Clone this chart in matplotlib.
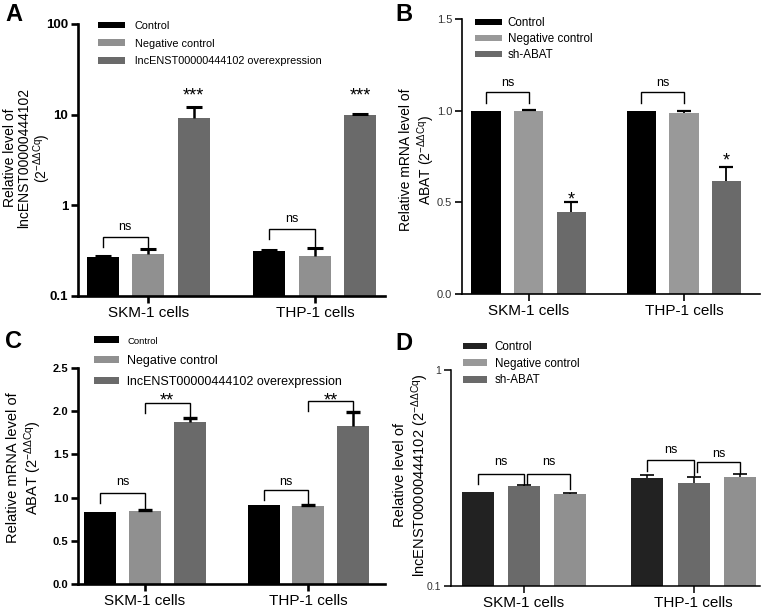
import matplotlib
matplotlib.use('Agg')
import matplotlib.pyplot as plt
import numpy as np
from matplotlib.patches import Patch
from matplotlib.ticker import FixedLocator, NullLocator, FixedFormatter

plt.rcParams['font.family'] = ['Liberation Sans', 'DejaVu Sans']
plt.rcParams['mathtext.fontset'] = 'custom'
plt.rcParams['mathtext.rm'] = 'Liberation Sans'
plt.rcParams['mathtext.it'] = 'Liberation Sans:italic'
plt.rcParams['mathtext.bf'] = 'Liberation Sans:bold'

# ---------------- data ----------------
cells = ['SKM-1 cells', 'THP-1 cells']

a_labels = ['Control', 'Negative control', 'lncENST00000444102 overexpression']
a_control = [0.27, 0.31]
a_control_err = [0.004, 0.008]
a_negative = [0.29, 0.275]
a_negative_err = [0.038, 0.06]
a_over = [9.3, 9.8]
a_over_err = [3.0, 0.4]
a_yticks = [0.1, 1, 10, 100]
a_yticklabels = ['0.1', '1', '10', '100']

b_labels = ['Control', 'Negative control', 'sh-ABAT']
b_control = [1.0, 1.0]
b_control_err = [0.0, 0.0]
b_negative = [1.0, 0.99]
b_negative_err = [0.003, 0.008]
b_sh = [0.45, 0.617]
b_sh_err = [0.05, 0.077]
b_yticks = [0.0, 0.5, 1.0, 1.5]

c_labels = ['Control', 'Negative control', 'lncENST00000444102 overexpression']
c_control = [0.83, 0.91]
c_control_err = [0.0, 0.0]
c_negative = [0.85, 0.90]
c_negative_err = [0.01, 0.01]
c_over = [1.87, 1.83]
c_over_err = [0.05, 0.16]
c_yticks = [0.0, 0.5, 1.0, 1.5, 2.0, 2.5]

d_labels = ['Control', 'Negative control', 'sh-ABAT']
d_control = [0.272, 0.316]
d_control_err = [0.0, 0.01]
d_negative = [0.29, 0.30]
d_negative_err = [0.002, 0.02]
d_sh = [0.268, 0.32]
d_sh_err = [0.002, 0.01]
d_yticks = [0.1, 1]
d_yticklabels = ['0.1', '1']

# ---------------- styling ----------------
W, H = 765, 611
fig = plt.figure(figsize=(W / 100, H / 100), dpi=100)


def px_axes(l, r, t, b):
    return fig.add_axes([l / W, 1 - b / H, (r - l) / W, (b - t) / H])


def style_axes(ax, lw, bold_ticks, tick_fs, xlim):
    for s in ['top', 'right']:
        ax.spines[s].set_visible(False)
    for s in ['left', 'bottom']:
        ax.spines[s].set_linewidth(lw)
    ax.set_xlim(*xlim)
    ax.set_xticks(np.arange(len(cells)))
    ax.set_xticklabels(cells, fontsize=11)
    ax.tick_params(axis='x', length=5, width=lw, pad=2)
    ax.tick_params(axis='y', length=5, width=lw, pad=2, labelsize=tick_fs)
    for t in ax.get_yticklabels():
        t.set_fontweight('bold' if bold_ticks else 'normal')
    ax.yaxis.set_minor_locator(NullLocator())
    ax.xaxis.set_minor_locator(NullLocator())


def draw_bars(ax, series, errs, colors, spacing, width, capw, elw, cthick):
    x = np.arange(len(cells))
    offs = [-spacing, 0, spacing]
    for vals, err, col, off in zip(series, errs, colors, offs):
        vals = np.asarray(vals, float)
        err = np.asarray(err, float)
        ax.bar(x + off, vals, width, color=col, zorder=2)
        m = err > 0
        top = vals + err
        ax.vlines((x + off)[m], vals[m], top[m], color='black', lw=elw, zorder=3)
        ax.plot((x + off)[m], top[m], linestyle='none', marker='_',
                markersize=capw, mew=cthick, color='black', zorder=3)


def bracket(ax, x1, x2, ytop, yl, yr, lw=1.0):
    ax.plot([x1, x1, x2, x2], [yl, ytop, ytop, yr], color='black', lw=lw,
            zorder=4, solid_joinstyle='miter', clip_on=False)


def legend(ax, labels, colors, left, top, fs, hl, hh, ls, tp):
    handles = [Patch(facecolor=c, edgecolor='none') for c in colors]
    return ax.legend(handles, labels, loc='upper left',
                     bbox_to_anchor=(left / W, 1 - top / H),
                     bbox_transform=fig.transFigure, frameon=False,
                     fontsize=fs, handlelength=hl, handleheight=hh,
                     labelspacing=ls, handletextpad=tp, borderpad=0,
                     borderaxespad=0)


BLACK = '#000000'
LIGHT = '#909090'
DARK = '#6a6a6a'
sp = 0.273

# ---------------- Panel A ----------------
axA = px_axes(78, 385, 24, 296)
axA.set_yscale('log')
axA.set_ylim(0.1, 100)
draw_bars(axA, [a_control, a_negative, a_over],
          [a_control_err, a_negative_err, a_over_err],
          [BLACK, LIGHT, DARK], sp, 0.192, 11.5, 1.8, 2.2)
axA.yaxis.set_major_locator(FixedLocator(a_yticks))
axA.yaxis.set_major_formatter(FixedFormatter(a_yticklabels))
style_axes(axA, 1.9, True, 9.5, (-0.42, 1.42))
bracket(axA, -sp, 0, 0.445, 0.345, 0.33)
bracket(axA, 1 - sp, 1, 0.545, 0.42, 0.34)
axA.text(-sp / 2, 0.50, 'ns', ha='center', va='bottom', fontsize=9)
axA.text(1 - sp / 2, 0.61, 'ns', ha='center', va='bottom', fontsize=9)
for i in range(2):
    axA.text(i + sp, 14.5, '***', ha='center', va='baseline', fontsize=13)
legend(axA, a_labels, [BLACK, LIGHT, DARK], 98, 21, 7.8, 2.5, 0.55, 0.7, 0.9)
fig.text(28 / W, 1 - 158 / H,
         'Relative level of\nlncENST00000444102\n(2$^{\\mathregular{-\u0394\u0394Cq}}$)',
         rotation=90, ha='center', va='center', fontsize=10, linespacing=1.05,
         multialignment='center')
fig.text(5 / W, 1 - 3 / H, 'A', fontsize=17, fontweight='bold', va='top', ha='left')

# ---------------- Panel B ----------------
axB = px_axes(462, 760, 19, 294)
axB.set_ylim(0, 1.5)
draw_bars(axB, [b_control, b_negative, b_sh],
          [b_control_err, b_negative_err, b_sh_err],
          [BLACK, '#999999', DARK], 0.274, 0.19, 9.4, 1.3, 1.6)
axB.set_yticks(b_yticks)
axB.set_yticklabels(['0.0', '0.5', '1.0', '1.5'])
style_axes(axB, 1.2, False, 8, (-0.43, 1.49))
for t in axB.get_yticklabels():
    t.set_color('#333333')
bracket(axB, -0.274, 0, 1.104, 1.044, 1.044)
bracket(axB, 1 - 0.274, 1, 1.104, 1.044, 1.044)
axB.text(-0.137, 1.137, 'ns', ha='center', va='baseline', fontsize=9)
axB.text(1 - 0.137, 1.137, 'ns', ha='center', va='baseline', fontsize=9)
axB.text(0.274, 0.49, '*', ha='center', va='baseline', fontsize=13)
axB.text(1.274, 0.70, '*', ha='center', va='baseline', fontsize=13)
legend(axB, b_labels, [BLACK, '#999999', DARK], 475, 17, 8.4, 2.3, 0.5, 0.35, 0.5)
fig.text(418 / W, 1 - 160 / H,
         'Relative mRNA level of\nABAT (2$^{\\mathregular{-\u0394\u0394Cq}}$)',
         rotation=90, ha='center', va='center', fontsize=10, linespacing=1.15,
         multialignment='center')
fig.text(395 / W, 1 - 3 / H, 'B', fontsize=17, fontweight='bold', va='top', ha='left')

# ---------------- Panel C ----------------
axC = px_axes(78, 385, 368, 584)
axC.set_ylim(0, 2.5)
draw_bars(axC, [c_control, c_negative, c_over],
          [c_control_err, c_negative_err, c_over_err],
          [BLACK, LIGHT, DARK], sp, 0.196, 10.0, 1.8, 2.4)
axC.set_yticks(c_yticks)
axC.set_yticklabels(['0.0', '0.5', '1.0', '1.5', '2.0', '2.5'])
style_axes(axC, 1.9, True, 8, (-0.41, 1.47))
bracket(axC, -sp, 0, 1.053, 0.94, 0.88)
bracket(axC, 1 - sp, 1, 1.088, 0.97, 0.915)
bracket(axC, 0, sp, 2.095, 1.98, 1.95)
bracket(axC, 1, 1 + sp, 2.118, 2.0, 1.99)
axC.text(-sp / 2, 1.146, 'ns', ha='center', va='baseline', fontsize=9)
axC.text(1 - sp / 2, 1.146, 'ns', ha='center', va='baseline', fontsize=9)
axC.text(sp / 2, 2.07, '**', ha='center', va='baseline', fontsize=13)
axC.text(1 + sp / 2, 2.07, '**', ha='center', va='baseline', fontsize=13)
legC = legend(axC, c_labels, [BLACK, LIGHT, DARK], 94, 336, 9, 2.0, 0.5, 0.7, 0.64)
legC.get_texts()[0].set_fontsize(6.8)
fig.text(25 / W, 1 - 468 / H,
         'Relative mRNA level of\nABAT (2$^{\\mathregular{-\u0394\u0394Cq}}$)',
         rotation=90, ha='center', va='center', fontsize=10.5, linespacing=1.15,
         multialignment='center')
fig.text(5 / W, 1 - 330 / H, 'C', fontsize=17, fontweight='bold', va='top', ha='left')

# ---------------- Panel D ----------------
axD = px_axes(451, 760, 370, 586)
axD.set_yscale('log')
axD.set_ylim(0.1, 1)
draw_bars(axD, [d_control, d_negative, d_sh],
          [d_control_err, d_negative_err, d_sh_err],
          ['#222222', DARK, '#909090'], 0.273, 0.188, 10.5, 1.1, 1.2)
axD.yaxis.set_major_locator(FixedLocator(d_yticks))
axD.yaxis.set_major_formatter(FixedFormatter(d_yticklabels))
style_axes(axD, 1.1, False, 7.5, (-0.43, 1.39))
for t in axD.get_yticklabels():
    t.set_color('#333333')
bracket(axD, -0.273, 0, 0.33, 0.297, 0.297)
bracket(axD, 0.02, 0.273, 0.33, 0.297, 0.28)
bracket(axD, 1 - 0.273, 1, 0.383, 0.342, 0.327)
bracket(axD, 1.02, 1.273, 0.375, 0.337, 0.334)
axD.text(-0.137, 0.363, 'ns', ha='center', va='baseline', fontsize=9)
axD.text(0.147, 0.363, 'ns', ha='center', va='baseline', fontsize=9)
axD.text(1 - 0.137, 0.413, 'ns', ha='center', va='baseline', fontsize=9)
axD.text(1.147, 0.395, 'ns', ha='center', va='baseline', fontsize=9)
legend(axD, d_labels, ['#222222', '#999999', DARK], 463, 341, 8.4, 2.05, 0.5, 0.4, 0.68)
fig.text(412 / W, 1 - 475 / H,
         'Relative level of\nlncENST00000444102 (2$^{\\mathregular{-\u0394\u0394Cq}}$)',
         rotation=90, ha='center', va='center', fontsize=10.5, linespacing=1.15,
         multialignment='center')
fig.text(395 / W, 1 - 332 / H, 'D', fontsize=17, fontweight='bold', va='top', ha='left')

fig.savefig('out.png', dpi=100)
